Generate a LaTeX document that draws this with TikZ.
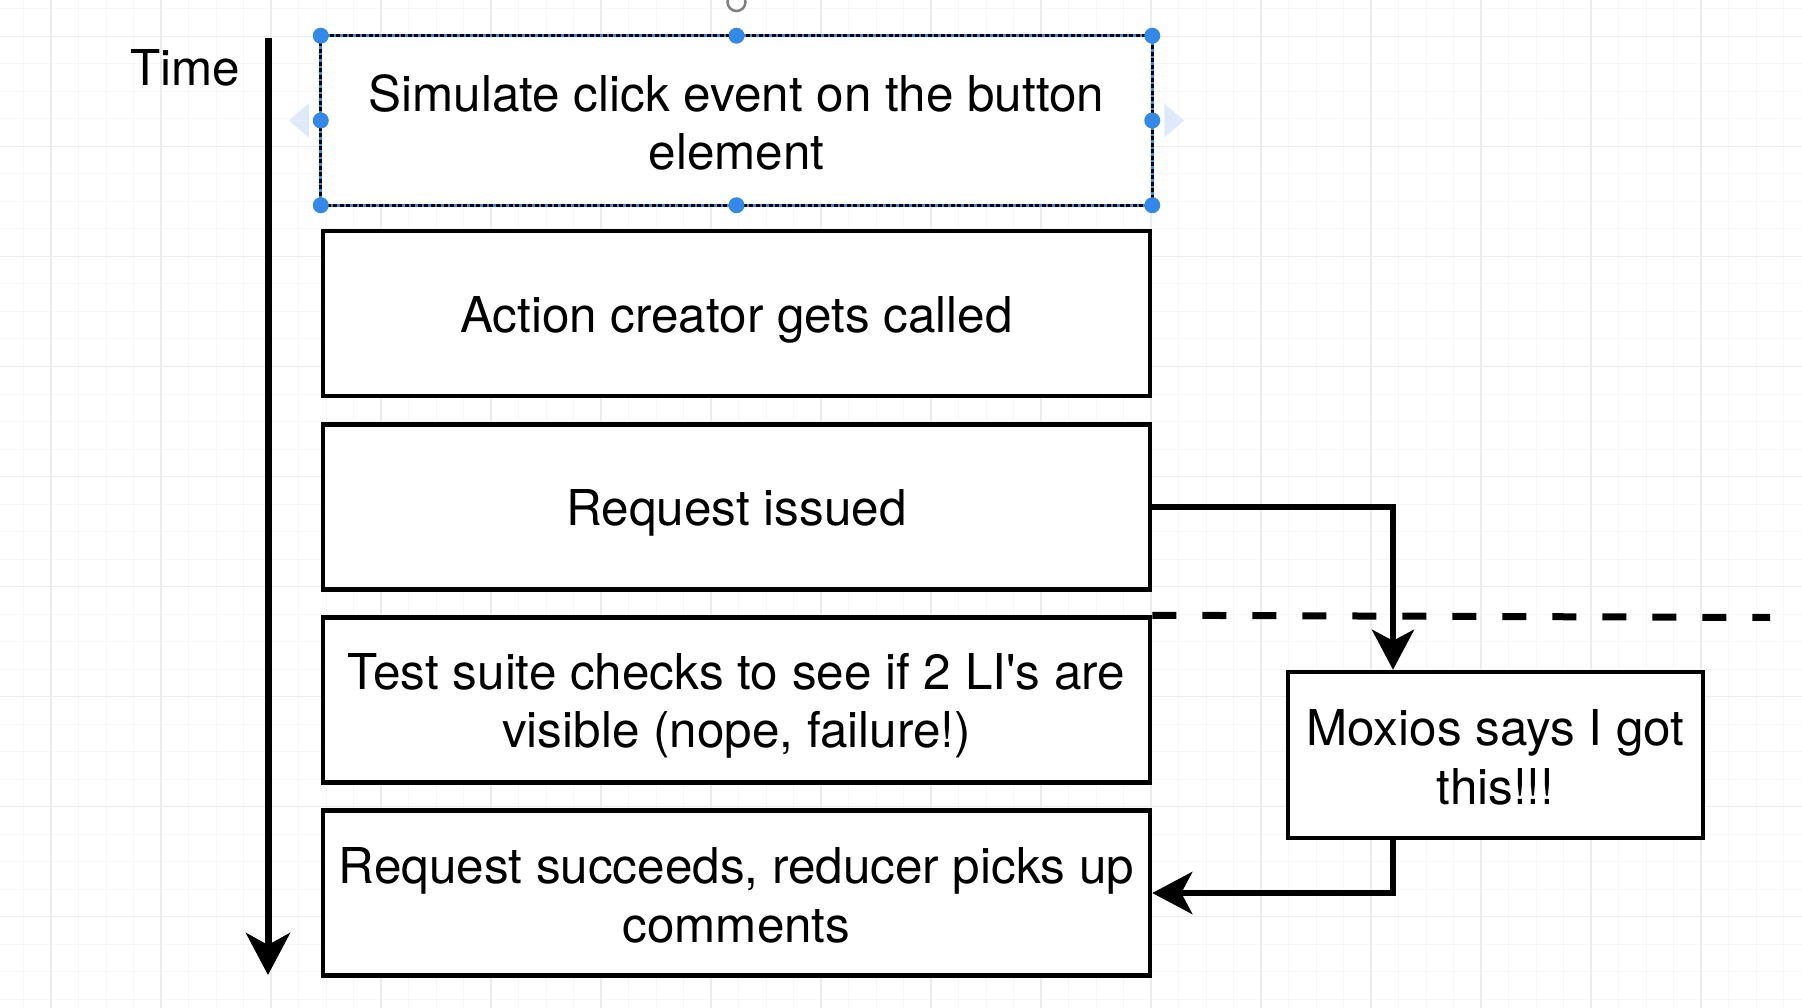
\documentclass[tikz,border=0pt]{standalone}
\usepackage{fontspec}
\setmainfont{TeX Gyre Heros}
\usetikzlibrary{arrows.meta,calc}
\definecolor{handle}{RGB}{52,136,232}
\definecolor{gridminor}{RGB}{247,247,247}
\definecolor{gridmajor}{RGB}{236,236,236}
\definecolor{ghost}{RGB}{222,234,250}
\newcommand{\ls}{\rule[-8pt]{0pt}{56pt}}
\begin{document}
\begin{tikzpicture}[x=1pt,y=-1pt,
  box/.style={draw=black, line width=4.5pt, fill=white, minimum width=827pt, minimum height=165pt, align=center, inner sep=0pt, font=\fontsize{49.4}{58}\selectfont},
  selbox/.style={box, draw=none},
  conn/.style={draw=black, line width=6pt, -{Stealth[length=40pt,width=42pt,inset=11pt]}},
  timearrow/.style={draw=black, line width=7pt, -{Stealth[length=42pt,width=44pt,inset=12pt]}},
  sep/.style={draw=black, line width=7pt, dash pattern=on 24pt off 26pt},
  hdl/.style={circle, fill=handle, draw=none, minimum size=16pt, inner sep=0pt},
  lbl/.style={font=\fontsize{49.4}{58}\selectfont, inner sep=0pt}
]
\useasboundingbox (0,0) rectangle (1802,1008);
\fill[white] (0,0) rectangle (1802,1008);
% grid
\foreach \i in {0,...,65} \draw[gridminor, line width=1pt] ({23.5+27.5*\i},0) -- ({23.5+27.5*\i},1008);
\foreach \i in {0,...,36} \draw[gridminor, line width=1pt] (0,{9+27.5*\i}) -- (1802,{9+27.5*\i});
\foreach \i in {0,...,15} \draw[gridmajor, line width=1.5pt] ({51+110*\i},0) -- ({51+110*\i},1008);
\foreach \i in {0,...,8} \draw[gridmajor, line width=1.5pt] (0,{36.5+110*\i}) -- (1802,{36.5+110*\i});

% time axis
\node[lbl] (time) at (185,68) {Time};
\coordinate (ttop) at (268,38);
\coordinate (tbot) at (268,975);
\draw[timearrow] (ttop) -- (tbot);

% boxes
\node[selbox] (sim) at (736.5,120.5) {\ls Simulate click event on the button\\\ls element};
\node[box] (act) at (736.5,313.5) {\ls Action creator gets called};
\node[box] (req) at (736.5,507) {\ls Request issued};
\node[box] (test) at (736.5,700) {\ls Test suite checks to see if 2 LI\textquotesingle s are\\\ls visible (nope, failure!)};
\node[box] (succ) at (736.5,893) {\ls Request succeeds, reducer picks up\\\ls comments};
\node[box, minimum width=415pt, minimum height=166pt] (mox) at (1495.5,755) {\ls Moxios says I got\\\ls this!!!};

% selection decoration of first box
\draw[handle, line width=3pt] (sim.north west) rectangle (sim.south east);
\draw[black, line width=3pt, dash pattern=on 4pt off 2.5pt] (sim.north west) rectangle (sim.south east);
\foreach \a in {north west,north,north east,east,south east,south,south west,west}
  \node[hdl] at (sim.\a) {};
\fill[ghost] ($(sim.west)+(-12,0)$) -- ++(-20,0) -- ++(20,-17) -- cycle;
\fill[ghost] ($(sim.west)+(-12,0)$) -- ++(-20,0) -- ++(20,17) -- cycle;
\fill[ghost] ($(sim.east)+(12,-17)$) -- ++(20,17) -- ++(-20,17) -- cycle;
\draw[gray, line width=2.5pt] (736.5,2) circle[radius=9pt];

% connectors
\coordinate (cx) at (1393,0);
\draw[conn] (req.east) -| (cx |- mox.north);
\draw[conn] (cx |- mox.south) |- (succ.east);

% separator
\coordinate (sepend) at (1770,617.5);
\draw[sep] (test.north east) -- (sepend);
\end{tikzpicture}
\end{document}
